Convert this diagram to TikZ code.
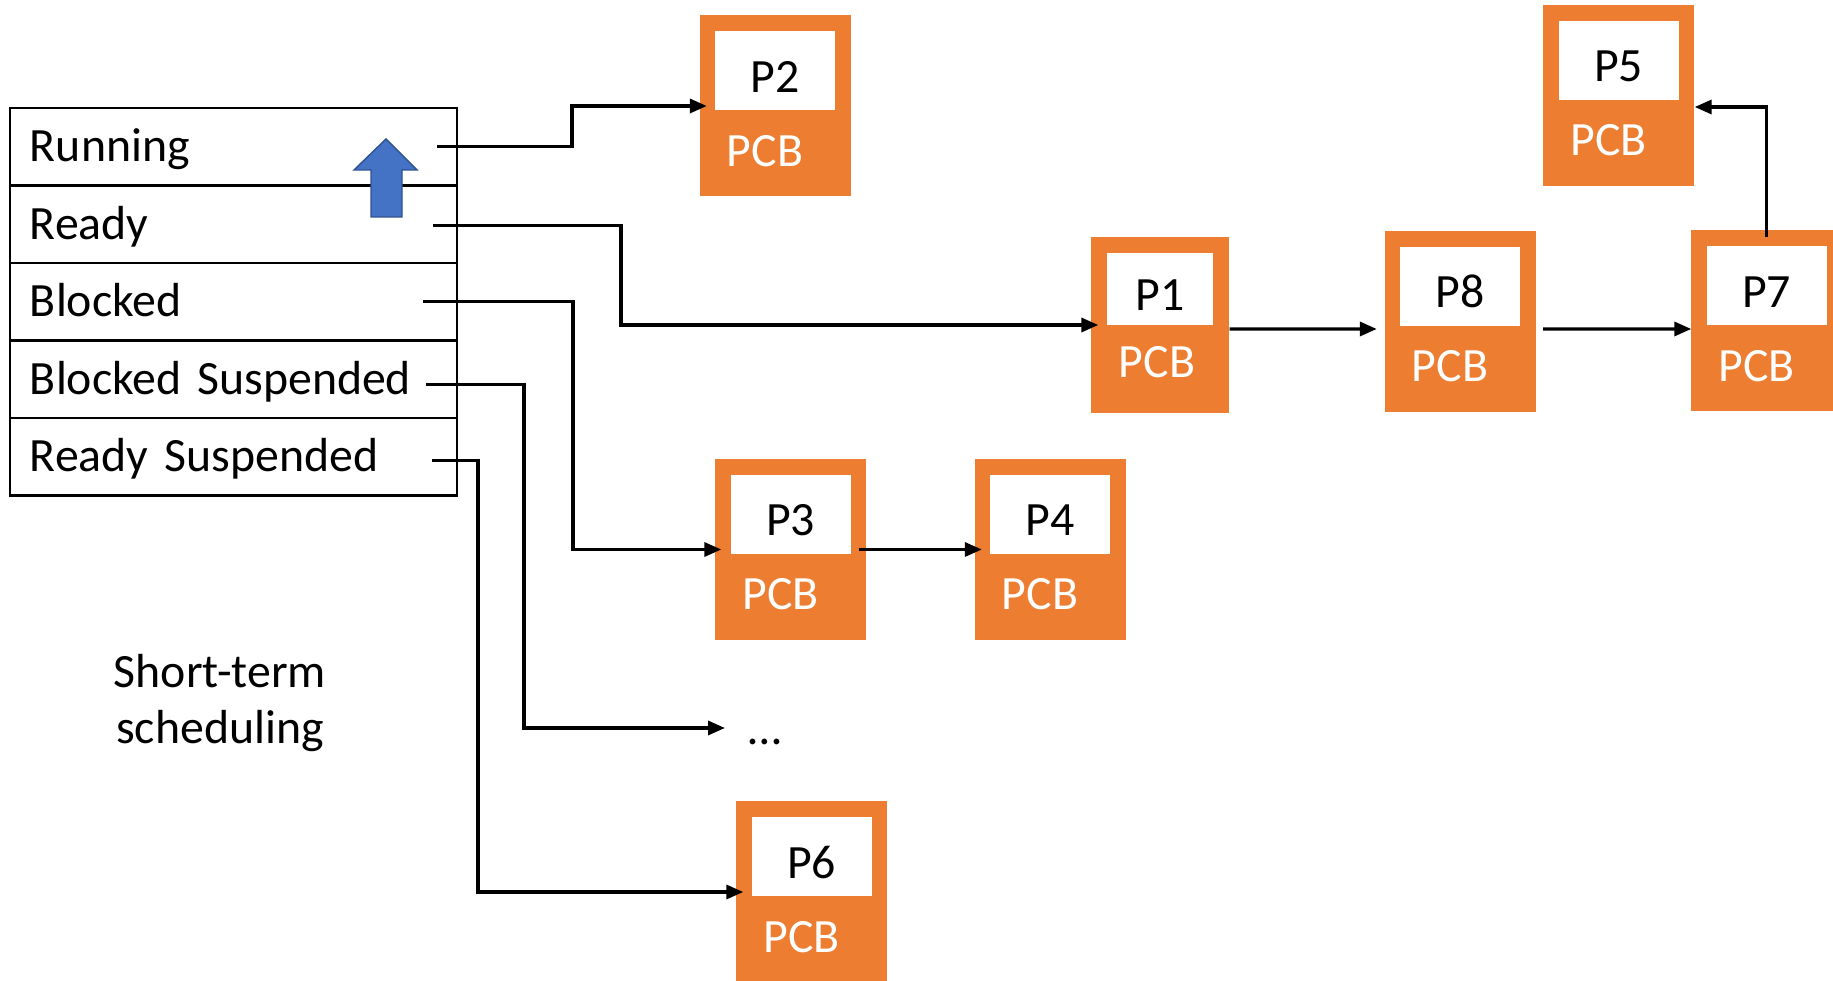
\documentclass[tikz,border=0pt]{standalone}
\usepackage{fontspec}
\setmainfont{Carlito}
\usepackage{tikz}
\usetikzlibrary{positioning, calc}
\usetikzlibrary{arrows.meta}
\definecolor{pcborange}{HTML}{ED7D31}
\definecolor{arrowblue}{HTML}{4472C4}
\definecolor{arrowrim}{HTML}{2F528F}

\begin{document}
\begin{tikzpicture}[x=0.1mm,y=-0.1mm, >={Triangle[length=1.7mm,width=1.4mm]},
  every node/.style={font=\fontsize{13.6}{16}\selectfont},
  staterow/.style={draw, line width=0.65pt, outer sep=0pt, minimum height=7.75mm, text width=40.7mm,
    inner xsep=2.0mm, inner ysep=0pt, align=left, text height=4.5mm, text depth=1.5mm},
  pcbbox/.style={fill=pcborange, minimum width=15.1mm, minimum height=18.1mm, inner sep=0pt},
  pcbname/.style={fill=white, anchor=north, minimum width=12mm, minimum height=7.9mm,
    inner sep=0pt, text height=4.3mm, text depth=0pt},
  pcbtag/.style={text=white, anchor=base, inner sep=0pt},
  conn/.style={->, line width=0.95pt}]

  \useasboundingbox (0,0) rectangle (1833,981);

  %--- tabella degli stati
  \node[staterow, anchor=north west] (r1) at (10,108) {Running};
  \node[staterow, below=0pt of r1] (r2) {Ready};
  \node[staterow, below=0pt of r2] (r3) {Blocked};
  \node[staterow, below=0pt of r3] (r4) {Blocked Suspended};
  \node[staterow, below=0pt of r4] (r5) {Ready Suspended};

  % freccia blu
  \draw[fill=arrowblue, draw=arrowrim, line width=0.4pt]
    (371,217) -- (371,170) -- (354,170) -- (386,139) -- (417,170) -- (402,170) -- (402,217) -- cycle;

  \node[align=center, inner sep=0pt] (stnote) at (220,703) {Short-term\\scheduling};

  %--- blocchi PCB
  \foreach \n/\x/\y in {2/775/106, 5/1618.5/95.5, 8/1460/321.5, 7/1766.5/321,
                        3/790.5/549.5, 4/1050/549.5, 6/811.5/892}{
    \node[pcbbox] (p\n) at (\x,\y) {};
    \node[pcbname] (p\n name) at ([yshift=-1.6mm]p\n.north) {P\n};
    \node[pcbtag] at ([xshift=-1mm,yshift=3.1mm]p\n.south) {PCB};
  }
  \node[pcbbox, minimum width=13.8mm, minimum height=17.6mm] (p1) at (1160,325) {};
  \node[pcbname, minimum width=10.6mm, minimum height=7.2mm] (p1name) at ([yshift=-1.6mm]p1.north) {P1};
  \node[pcbtag] at ([xshift=-0.3mm,yshift=3.6mm]p1.south) {PCB};

  \node[anchor=west, inner xsep=2.3mm, inner ysep=0pt, text height=3.4mm, text depth=0pt]
    (dots) at (725,728) {…};

  %--- code
  \draw[conn] ([xshift=-2mm]r1.east) -- ++(135,0) |- ([xshift=0.8mm]p2.west);
  \draw[conn] ([xshift=-2.4mm,yshift=-0.15mm]r2.east) -- ++(188,0) |- ([xshift=0.8mm]p1.west);
  \draw[conn] ([xshift=-3.4mm]r3.east) -- ++(150,0) |- ([xshift=0.7mm]p3.west);
  \draw[conn] ([xshift=-3.1mm,yshift=-0.5mm]r4.east) -- ++(98,0) |- (dots.west);
  \draw[conn] ([xshift=-2.5mm,yshift=-0.4mm]r5.east) -- ++(46,0) |- ([xshift=0.8mm]p6.west);

  \draw[conn] ([xshift=-0.8mm]p3.east) -- ([xshift=0.8mm]p4.west);
  \draw[conn] ([yshift=-0.4mm]p1.east) -- ([xshift=-0.7mm,yshift=-0.75mm]p8.west);
  \draw[conn] ([xshift=0.7mm,yshift=-0.75mm]p8.east) -- ([xshift=0.1mm,yshift=-0.8mm]p7.west);
  \draw[conn] ([yshift=-0.7mm]p7.north) |- ([yshift=-1.15mm]p5.east);
\end{tikzpicture}
\end{document}
